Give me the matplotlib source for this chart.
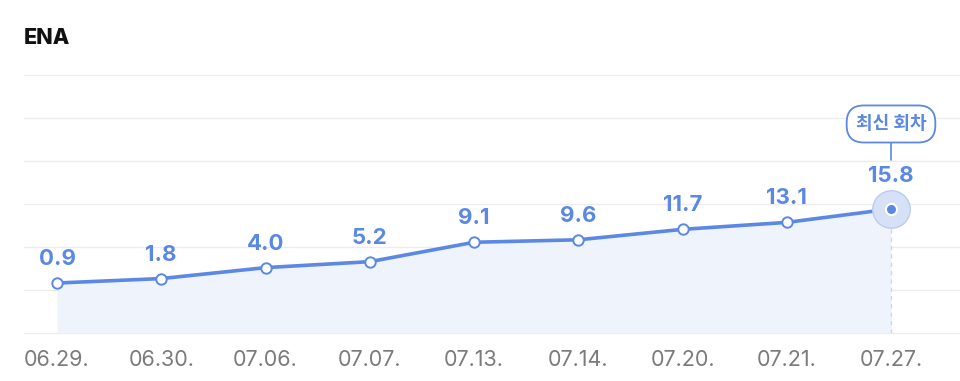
import matplotlib
matplotlib.use("Agg")
import matplotlib.pyplot as plt
import matplotlib.transforms as mtransforms
import numpy as np

# data
dates = ["06.29.", "06.30.", "07.06.", "07.07.", "07.13.", "07.14.", "07.20.", "07.21.", "07.27."]
ratings = [0.9, 1.8, 4.0, 5.2, 9.1, 9.6, 11.7, 13.1, 15.8]
title = "ENA"
latest_label = "최신 회차"

plt.rcParams['font.family'] = ['Inter', 'Noto Sans CJK KR', 'DejaVu Sans']

BLUE = '#5b88e4'
FILL = '#eef3fc'
GRID = '#ececec'

fig = plt.figure(figsize=(9.6, 3.81), dpi=100)
fig.patch.set_facecolor('white')

W, H = 960, 381
ax = fig.add_axes([24 / W, (H - 333) / H, 1 - 24 / W, (333 - 75) / H])
ax.set_facecolor('white')

x = np.arange(len(dates))
ymin, ymax = -9.15, 42.75
ax.set_ylim(ymin, ymax)
ax.set_xlim((24 - 57) / 104.25, (960 - 57) / 104.25)

# grid lines
for gy in np.linspace(ymin, ymax, 7):
    ax.axhline(gy, color=GRID, lw=1.0, zorder=0, clip_on=False)

ax.fill_between(x, ratings, ymin, color=FILL, zorder=1, lw=0)
ax.plot(x, ratings, color=BLUE, lw=2.6, zorder=3, solid_capstyle='round')
ax.plot(x[:-1], ratings[:-1], 'o', ms=7.5, mfc='white', mec=BLUE, mew=1.4, zorder=4)

# latest point highlight
ax.plot(x[-1], ratings[-1], 'o', ms=27, mfc='#d6e1f7', mec='#b9cdf2', mew=1.0, zorder=4)
ax.plot(x[-1], ratings[-1], 'o', ms=8, mfc=BLUE, mec='white', mew=1.5, zorder=5)
ax.plot([x[-1], x[-1]], [ymin, ratings[-1]], color='#c9d7f3', lw=1, ls=(0, (3, 3)), zorder=2)

for i, (xi, v) in enumerate(zip(x, ratings)):
    off = 33 if i == len(ratings) - 1 else 24  # last label sits above the halo
    ax.annotate(f"{v:.1f}", (xi, v), xytext=(0, off), textcoords='offset pixels',
                ha='center', va='center', fontsize=16, fontweight='bold', color=BLUE, zorder=6)

# "latest" pill label with a short connector that stops above the value label
tip = mtransforms.offset_copy(ax.transData, fig=fig, x=0, y=49, units='dots')
ax.annotate(latest_label, (x[-1], ratings[-1]), xycoords=tip,
            xytext=(0, 36), textcoords='offset pixels',
            ha='center', va='center', fontsize=13, fontweight='bold', color=BLUE,
            family=['Noto Sans CJK KR', 'DejaVu Sans'],
            bbox=dict(boxstyle='round,pad=0.5,rounding_size=0.95', fc='white', ec=BLUE, lw=1.3),
            arrowprops=dict(arrowstyle='-', color=BLUE, lw=1.2, shrinkA=0, shrinkB=0),
            annotation_clip=False, zorder=7)

ax.set_xticks(x)
ax.set_xticklabels(dates, fontsize=15.5, color='#7b7b7b')
ax.tick_params(axis='x', length=0, pad=12)
ax.set_yticks([])
for s in ax.spines.values():
    s.set_visible(False)

fig.text(24 / W, 1 - 38 / H, title, ha='left', va='center', fontsize=15.5,
         fontweight='heavy', color='#111111')

fig.savefig('out.png', dpi=100, facecolor='white')
